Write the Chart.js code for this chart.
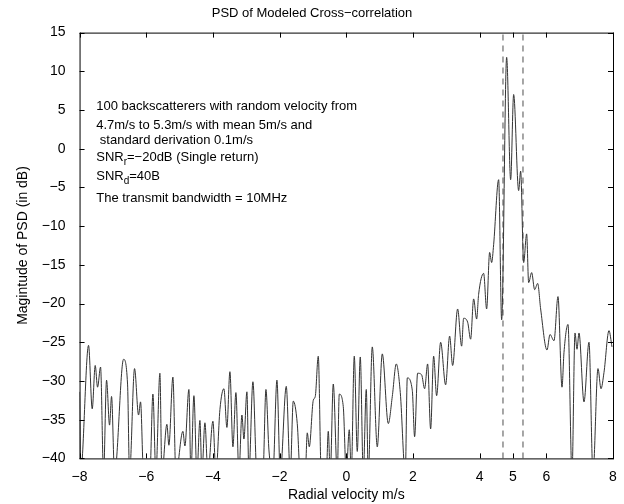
<!DOCTYPE html>
<html><head>
<script src="https://cdn.jsdelivr.net/npm/chart.js@4.4.1/dist/chart.umd.min.js"></script>
<style>html,body{margin:0;background:#fff}#wrap{width:624px;height:504px}</style>
</head><body><div id="wrap"><canvas id="c"></canvas></div>
<script>
// PSD trace: peaks / troughs (values below -40 hit the axis)
const velocity = [-8,-7.97,-7.73,-7.62,-7.53,-7.46,-7.37,-7.28,-7.19,-7.10,-7.04,-6.95,-6.68,-6.56,-6.50,-6.35,-6.23,-6.17,-6.08,
  -5.89,-5.80,-5.71,-5.59,-5.53,-5.38,-5.32,-5.20,-5.11,-4.90,-4.84,-4.72,-4.66,-4.57,-4.48,-4.39,-4.33,-4.24,-4.15,-4.00,-3.91,
  -3.79,-3.67,-3.58,-3.49,-3.40,-3.31,-3.22,-3.13,-3.07,-2.98,-2.92,-2.80,-2.68,-2.50,-2.41,-2.32,-2.20,
  -2.08,-1.98,-1.80,-1.68,-1.59,-1.47,-1.38,-1.23,-1.17,-1.11,-0.99,-0.93,-0.84,-0.75,-0.60,-0.54,-0.48,-0.39,-0.27,-0.21,-0.09,
  0.00,0.09,0.15,0.24,0.33,0.42,0.51,0.60,0.66,0.78,0.93,1.08,1.26,1.38,1.50,1.62,1.77,1.83,1.98,2.05,2.14,2.26,2.35,2.44,2.53,
  2.62,2.71,2.83,2.98,3.10,3.19,3.34,3.46,3.52,3.64,3.73,3.82,3.91,3.97,4.12,4.21,4.30,4.36,4.42,4.57,4.66,4.81,4.93,5.02,5.17,
  5.23,5.32,5.41,5.47,5.56,5.65,5.74,5.83,6.02,6.11,6.23,6.35,6.47,6.53,6.65,6.77,6.86,6.92,6.98,7.13,7.28,7.40,7.55,7.64,7.73,7.88,7.97];
const psd = [-31.4,-42,-25.4,-33.6,-28,-30.8,-28.2,-42,-29.9,-35.7,-32,-42,-27.2,-30.4,-42,-28.4,-34.4,-32.7,-42,
  -42,-31.7,-42,-29,-42,-35.6,-38.3,-29.5,-42,-36.5,-38.4,-31.1,-42,-31.9,-42,-35.1,-42,-35.4,-42,-35.2,-42,
  -33.7,-31,-36,-28.8,-38.5,-31.5,-42,-34.4,-37.5,-31.4,-42,-30.1,-42,-42,-31.1,-38.9,-42,
  -29.9,-42,-30.7,-42,-32.6,-35.5,-42,-42,-36.7,-38.5,-32.5,-32,-26.8,-42,-42,-36.5,-42,-30.4,-42,-31.7,-33.3,
  -42,-36.3,-42,-26.8,-39.1,-26.9,-42,-31.1,-42,-25.6,-38.5,-26.5,-35.5,-32,-27.8,-31.5,-42,-29.6,-31.2,-37.2,-29,-29.2,-31,-27.8,-36.2,
  -26.8,-31.9,-25,-30.5,-24.2,-28,-20.7,-25.5,-21.9,-22.4,-24.6,-19.4,-22,-18.8,-16.1,-20.7,-13.4,-14.7,-12.4,-4,-22.1,11.8,-4,7,-5.4,
  -2.9,-14.7,-11,-17.3,-16,-18.2,-17.4,-20.7,-26,-24,-24.8,-19.1,-30.8,-26.3,-22.7,-42,-23.8,-25.9,-23.8,-32.7,-25,-42,-28.4,-31,-28.9,-23.5,-25.6];
const velBounds = [4.7, 5.3];
const xTicks = [-8,-6,-4,-2,0,2,4,5,6,8];
const noteLines = ['100 backscatterers with random velocity from','4.7m/s to 5.3m/s with mean 5m/s and',' standard derivation 0.1m/s'];
const noteLevels = [5.0, 2.55, 0.6];

const FONT = '"Liberation Sans", Arial, sans-serif';

const innerTicks = {
  id: 'innerTicks',
  afterDraw(chart) {
    const { ctx, chartArea: a, scales: { x, y } } = chart;
    ctx.save();
    ctx.strokeStyle = '#000'; ctx.lineWidth = 1;
    xTicks.forEach(v => {
      const p = Math.round(x.getPixelForValue(v)) + 0.5;
      ctx.beginPath(); ctx.moveTo(p, a.bottom); ctx.lineTo(p, a.bottom - 5);
      ctx.moveTo(p, a.top); ctx.lineTo(p, a.top + 5); ctx.stroke();
    });
    for (let v = -40; v <= 15; v += 5) {
      const p = Math.round(y.getPixelForValue(v)) + 0.5;
      ctx.beginPath(); ctx.moveTo(a.left, p); ctx.lineTo(a.left + 5, p);
      ctx.moveTo(a.right, p); ctx.lineTo(a.right - 5, p); ctx.stroke();
    }
    ctx.strokeRect(a.left + 0.5, a.top + 0.5, a.right - a.left, a.bottom - a.top);

    // annotation text
    ctx.fillStyle = '#000'; ctx.textBaseline = 'alphabetic';
    ctx.font = '13px ' + FONT;
    const tx = x.getPixelForValue(-7.5);
    noteLines.forEach((s, i) => ctx.fillText(s, tx, y.getPixelForValue(noteLevels[i])));
    function sub(main, s, rest, v) {
      const py = y.getPixelForValue(v);
      ctx.font = '13px ' + FONT; ctx.fillText(main, tx, py);
      let w = ctx.measureText(main).width;
      ctx.font = '10px ' + FONT; ctx.fillText(s, tx + w, py + 4);
      w += ctx.measureText(s).width;
      ctx.font = '13px ' + FONT; ctx.fillText(rest, tx + w, py);
    }
    sub('SNR', 'r', '=\u221220dB (Single return)', -1.6);
    sub('SNR', 'd', '=40B', -4.1);
    ctx.font = '13px ' + FONT;
    ctx.fillText('The transmit bandwidth = 10MHz', tx, y.getPixelForValue(-6.9));
    ctx.restore();
  }
};

new Chart(document.getElementById('c'), {
  type: 'scatter',
  data: {
    datasets: [
      { data: velocity.map((v, i) => ({ x: v, y: psd[i] })), showLine: true, borderColor: '#333', borderWidth: 1,
        pointRadius: 0, cubicInterpolationMode: 'monotone' },
      ...velBounds.map(b => ({ data: [{ x: b, y: -40 }, { x: b, y: 15 }], showLine: true, borderColor: '#777',
        borderWidth: 1.3, borderDash: [6, 5], pointRadius: 0 }))
    ]
  },
  plugins: [innerTicks],
  options: {
    responsive: true, maintainAspectRatio: false, animation: false,
    layout: { padding: { left: 11, right: 11, top: 4 } },
    plugins: {
      legend: { display: false }, tooltip: { enabled: false },
      title: { display: true, text: 'PSD of Modeled Cross\u2212correlation', color: '#000',
        font: { family: FONT, size: 13, weight: 'normal' }, padding: { top: 2, bottom: 11 } }
    },
    scales: {
      x: { min: -8, max: 8, afterBuildTicks: s => { s.ticks = xTicks.map(v => ({ value: v })); },
        grid: { display: false }, border: { display: false },
        ticks: { color: '#000', font: { family: FONT, size: 14 }, padding: 2, maxRotation: 0,
          callback: v => String(v).replace('-', '\u2212') },
        title: { display: true, text: 'Radial velocity m/s', color: '#000', font: { family: FONT, size: 14 }, padding: 0 } },
      y: { min: -40, max: 15, grid: { display: false }, border: { display: false },
        ticks: { stepSize: 5, color: '#000', font: { family: FONT, size: 14 }, padding: 6,
          callback: v => String(v).replace('-', '\u2212') },
        title: { display: true, text: 'Magintude of PSD (in dB)', color: '#000', font: { family: FONT, size: 14 }, padding: 4 } }
    }
  }
});
</script></body></html>
